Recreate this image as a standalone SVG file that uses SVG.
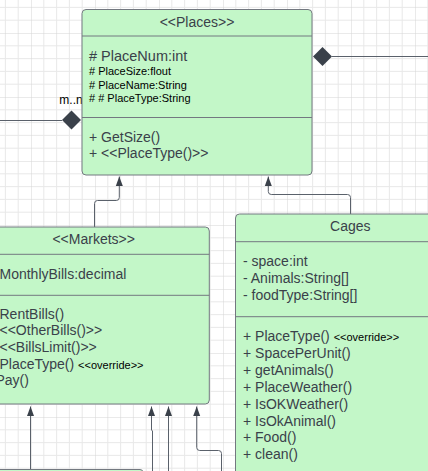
<svg xmlns="http://www.w3.org/2000/svg" width="428" height="471" viewBox="0 0 428 471">
<defs>
<pattern id="grid" patternUnits="userSpaceOnUse" x="31" y="33" width="64" height="64">
<rect width="64" height="64" fill="#ffffff"/>
<path d="M12.8 0V64M25.6 0V64M38.4 0V64M51.2 0V64M0 12.8H64M0 25.6H64M0 38.4H64M0 51.2H64" stroke="#e9e9e9" stroke-width="1" fill="none"/>
<path d="M0 0V64M0 0H64" stroke="#d6d6d6" stroke-width="1" fill="none"/>
</pattern>
<marker id="arrow" viewBox="0 0 10 8" refX="9.5" refY="4" markerWidth="10" markerHeight="8" markerUnits="userSpaceOnUse" orient="auto">
<path d="M0 0.5L9.5 4L0 7.5z" fill="#3a414a"/>
</marker>
</defs>
<style>
.box{fill:#c3f7c8;stroke:#737880;stroke-width:1}
.sep{stroke:#737880;stroke-width:1;fill:none}
.conn{fill:none;stroke:#5a616b;stroke-width:1}
.dia{fill:#3a414a}
.t{font-family:"Liberation Sans",Arial,sans-serif;font-size:14px;fill:#3a414a}
.s{font-family:"Liberation Sans",Arial,sans-serif;font-size:11px;fill:#000000}
.c{text-anchor:middle}
</style>
<rect x="0" y="0" width="428" height="471" fill="url(#grid)"/>
<g id="connectors">
<path class="conn" d="M94.5 227V203.5Q94.5 200.5 97.5 200.5H116.3Q119.3 200.5 119.3 197.5V176.5" marker-end="url(#arrow)"/>
<path class="conn" d="M350.5 214V197.5Q350.5 194.5 347.5 194.5H271.3Q268.3 194.5 268.3 191.5V176.5" marker-end="url(#arrow)"/>
<path class="conn" d="M30.5 471V406.5" marker-end="url(#arrow)"/>
<path class="conn" d="M152.5 471V431L151.5 430V406.5" marker-end="url(#arrow)"/>
<path class="conn" d="M168.5 471V406.5" marker-end="url(#arrow)"/>
<path class="conn" d="M221.5 471V453.5Q221.5 450.5 218.5 450.5H199.7Q196.7 450.5 196.7 447.5V406.5" marker-end="url(#arrow)"/>
<path class="conn" d="M0 120.5H62"/>
<polygon class="dia" points="62,120 71.5,110.5 81,120 71.5,129.5"/>
<path class="conn" d="M332 56.5H428"/>
<polygon class="dia" points="313,56.5 322.5,47 332,56.5 322.5,66"/>
<text class="s" x="59.3" y="104" style="font-size:12px">m..n</text>
</g>
<g id="node-places">
<rect class="box" x="82" y="9.5" width="230" height="165.5" rx="4"/>
<path class="sep" d="M82 36H312M82 117.5H312"/>
<text class="t c" x="197" y="26.7">&lt;&lt;Places&gt;&gt;</text>
<text class="t" x="89" y="60.5" style="font-size:14.5px"># PlaceNum:int</text>
<text class="s" x="89" y="75"># PlaceSize:flout</text>
<text class="s" x="89" y="88.5"># PlaceName:String</text>
<text class="s" x="89" y="102"># # PlaceType:String</text>
<text class="t" x="89" y="141.7">+ GetSize()</text>
<text class="t" x="89" y="158">+ &lt;&lt;PlaceType()&gt;&gt;</text>
</g>
<g id="node-markets">
<rect class="box" x="-22" y="227" width="231.3" height="177" rx="4"/>
<path class="sep" d="M-22 254.3H209.3M-22 295.3H209.3"/>
<text class="t c" x="93.7" y="244">&lt;&lt;Markets&gt;&gt;</text>
<text class="t" x="-0.5" y="279">MonthlyBills:decimal</text>
<text class="t" x="-0.5" y="318.5">RentBills()</text>
<text class="t" x="-0.5" y="335.2">&lt;&lt;OtherBills()&gt;&gt;</text>
<text class="t" x="-0.5" y="351.9">&lt;&lt;BillsLimit()&gt;&gt;</text>
<text class="t" x="-0.5" y="368.6">PlaceType() <tspan class="s">&lt;&lt;override&gt;&gt;</tspan></text>
<text class="t" x="-4.5" y="385.3">Pay()</text>
</g>
<g id="node-cages">
<rect class="box" x="235.5" y="214" width="230" height="280" rx="4"/>
<path class="sep" d="M235.5 241.7H465.5M235.5 316.7H465.5"/>
<text class="t c" x="350.3" y="230.7">Cages</text>
<text class="t" x="243" y="265.6">- space:int</text>
<text class="t" x="243" y="282.8">- Animals:String[]</text>
<text class="t" x="243" y="300">- foodType:String[]</text>
<text class="t" x="243" y="340.7">+ PlaceType() <tspan class="s">&lt;&lt;override&gt;&gt;</tspan></text>
<text class="t" x="243" y="357.7">+ SpacePerUnit()</text>
<text class="t" x="243" y="374.6">+ getAnimals()</text>
<text class="t" x="243" y="391.6">+ PlaceWeather()</text>
<text class="t" x="243" y="408.5">+ IsOKWeather()</text>
<text class="t" x="243" y="425.5">+ IsOkAnimal()</text>
<text class="t" x="243" y="442.4">+ Food()</text>
<text class="t" x="243" y="459.4">+ clean()</text>
</g>
<g id="node-bottom">
<rect class="box" x="-20" y="469.5" width="163" height="20" rx="3"/>
</g>
</svg>
